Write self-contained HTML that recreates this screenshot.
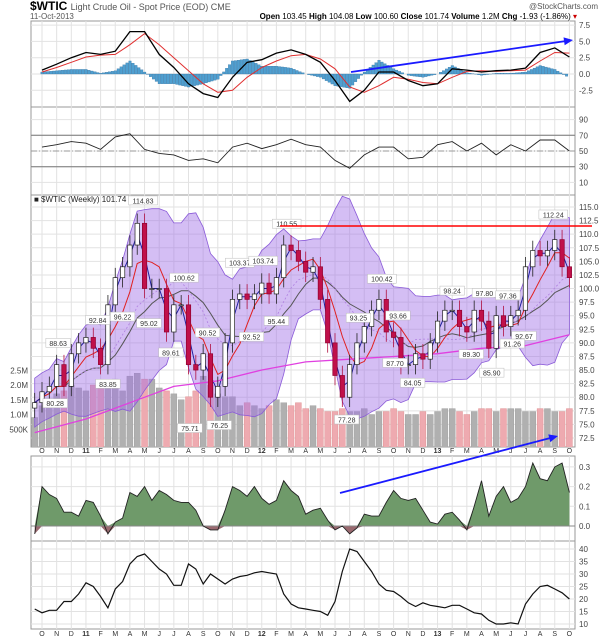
<!DOCTYPE html>
<html><head><meta charset="utf-8"><style>
body{margin:0;background:#fff}
svg{display:block;font-family:"Liberation Sans",sans-serif}
</style></head><body>
<svg id="c" width="606" height="640" xmlns="http://www.w3.org/2000/svg">
<rect width="606" height="640" fill="#fff"/>
<text x="30" y="10" font-size="12" font-weight="bold" fill="#000">$WTIC <tspan font-size="9" font-weight="normal" fill="#555">Light Crude Oil - Spot Price (EOD) CME</tspan></text>
<text x="30" y="19" font-size="8" fill="#555">11-Oct-2013</text>
<text x="598" y="9" font-size="8" fill="#555" text-anchor="end">@StockCharts.com</text>
<text x="577" y="19" font-size="8" text-anchor="end" fill="#000"><tspan font-weight="bold">Open</tspan> 103.45 <tspan font-weight="bold">High</tspan> 104.08 <tspan font-weight="bold">Low</tspan> 100.60 <tspan font-weight="bold">Close</tspan> 101.74 <tspan font-weight="bold">Volume</tspan> 1.2M <tspan font-weight="bold">Chg</tspan> -1.93 (-1.86%) <tspan fill="#c00">▾</tspan></text>
<defs>
<clipPath id="cpPrice"><rect x="31" y="195" width="544" height="252"/></clipPath>
<clipPath id="cpMacd"><rect x="31" y="21" width="544" height="86"/></clipPath>
</defs>
<g id="grid"></g>
<g id="marks"></g>
</svg>
<script>
// ---- data ----
const months = ["O","N","D","11","F","M","A","M","J","J","A","S","O","N","D","12","F","M","A","M","J","J","A","S","O","N","D","13","F","M","A","M","J","J","A","S","O"];
// semi-monthly series, m = -0.5, 0, 0.5, ... 36
const closes = [79,81,82,86,82,88,90,91,89,86,97,102,104,108,112,100,100,100,92,97,97,86,85,88,80,82,90,98,99,98,99,101,99,102,108,107,105,103,104,98,90,84,80,86,90,93,96,98,92,91,86,86,88,87,90,94,96,96,93,92,96,94,89,95,93,95,96,104,107,106,107,109,104,102];
const volumes = [0.9,1.3,1.5,1.7,1.8,2.0,1.9,1.8,2.0,2.0,2.1,2.2,1.8,2.3,2.4,2.2,2.2,1.9,1.8,1.7,1.5,1.6,1.8,2.3,2.0,1.7,1.6,1.6,1.3,1.4,1.3,1.2,1.3,1.5,1.4,1.3,1.4,1.2,1.3,1.2,1.1,1.1,1.2,1.1,1.1,1.2,1.0,1.1,1.1,1.2,1.1,1.0,1.0,1.1,1.0,1.1,1.2,1.2,1.1,1.0,1.1,1.2,1.2,1.1,1.2,1.2,1.2,1.1,1.1,1.2,1.2,1.1,1.1,1.2];
const panel4 = [-0.04,0.2,0.16,0.14,0.07,0.07,0.05,0.13,0.12,0.05,-0.04,0.02,0.04,0.17,0.15,0.2,0.13,0.18,0.16,0.13,0.12,0.12,0.08,0.0,-0.02,-0.02,0.08,0.2,0.18,0.15,0.2,0.14,0.11,0.13,0.23,0.18,0.15,0.06,0.08,0.09,0.03,-0.02,0.0,-0.04,-0.01,0.06,0.05,0.05,0.12,0.18,0.14,0.13,0.14,0.08,0.02,0.01,0.06,0.07,0.03,-0.02,0.1,0.23,0.05,0.15,0.2,0.12,0.14,0.2,0.32,0.24,0.23,0.3,0.32,0.17];
const panel5 = [16,14.5,15.5,15.5,19,19,22,26.5,25,21,16.5,24,27,34,37,38,35,32,30,25.5,25.5,34,32,26,30,28,26,28,29,29.5,30.5,31,30.5,30,22,18,16.5,16,15.5,15,13.5,19,31,40,39,35,31,26,23.5,23,21,18.5,17,18.5,17.5,17,16.5,17.5,17.5,16,14.5,14,11.5,10,10,10.5,10,18,22,25,25.5,24,22.5,20];
// monthly series, m = 0..36
const macdLine = [0.6,1.5,2.5,3.3,3.0,3.5,6.5,6.5,3.0,1.0,-1.5,-3.0,-3.6,-0.5,1.8,2.2,3.2,3.7,3.0,1.8,-1.0,-4.2,-2.5,0.3,0.3,-1.0,-1.8,-1.5,0.8,0.6,0.3,0.5,0.6,0.9,3.3,4.0,2.6];
const macdSignal = [0.3,1.0,1.8,2.6,2.9,3.0,4.5,6.2,4.5,2.5,0.5,-1.5,-2.8,-2.5,-0.5,1.0,2.0,2.8,3.0,2.3,0.8,-2.0,-2.8,-1.8,-0.5,-0.8,-1.3,-1.5,-0.5,0.4,0.5,0.4,0.5,0.6,2.0,3.3,3.2];
const rsi = [55,58,62,60,52,68,72,52,47,45,38,40,35,55,60,53,58,65,58,55,38,28,45,55,55,40,42,58,62,50,60,45,58,50,64,64,50];
// long MA (magenta)
const longMaMonths = [-0.5,3,6,9,12,15,18,21,24,27,30,33,36];
const longMaValues = [73.5,76,79,82,83,85,86.5,87,87.5,88,89,89.5,91.5];
// annotations
const annotM = [6.9,16.7,34.9,1.1,3.8,5.5,4.5,0.9,7.3,9.7,8.8,11.3,10.1,12.1,13.5,15.1,14.3,16.0,21.6,20.8,23.2,24.3,24.1,25.3,28.0,30.2,29.3,30.7,31.8,32.9,32.1];
const annotV = [114.83,110.55,112.24,88.63,92.84,96.22,83.85,80.28,95.02,100.62,89.61,90.52,75.71,76.25,103.37,103.74,92.52,95.44,93.25,77.28,100.42,93.66,87.70,84.05,98.24,97.80,89.30,85.90,97.36,92.67,91.26];
const annotUp = [1,1,1,1,1,0,0,0,0,1,0,1,0,0,1,1,0,0,1,0,1,1,0,0,1,1,0,0,1,0,0];
const priceTicks = [115,112.5,110,107.5,105,102.5,100,97.5,95,92.5,90,87.5,85,82.5,80,77.5,75,72.5];
const volTicks = [2.5,2.0,1.5,1.0,0.5];
const volTickLabels = ["2.5M","2.0M","1.5M","1.0M","500K"];
const macdTicks = [7.5,5.0,2.5,0.0,-2.5];
const rsiTicks = [90,70,50,30,10];
const p4Ticks = [0.3,0.2,0.1,0.0];
const p5Ticks = [40,35,30,25,20,15,10];

// ---- scales ----
const L=31,R=575;
const X = m => 42 + m*14.65;
const semiM = i => -0.5 + i*0.5;
const yPrice = p => 207 + (115-p)*5.435;
const yVol = v => 444 - v*29.5;
const yMacd = v => 74 - v*6.52;
const yRsi = v => 151 - (v-50)*0.785;
const yP4 = v => 526 - v*197;
const yP5 = v => 624 - (v-10)*2.5;

const NS="http://www.w3.org/2000/svg";
const svg=document.getElementById('c');
const G=document.getElementById('grid'), M=document.getElementById('marks');
function el(tag,attrs,parent){const e=document.createElementNS(NS,tag);for(const k in attrs)e.setAttribute(k,attrs[k]);(parent||M).appendChild(e);return e;}
function txt(x,y,s,attrs,parent){const e=el('text',Object.assign({x:x,y:y,'font-size':8,fill:'#333'},attrs||{}),parent);e.textContent=s;return e;}

// panels
const panels=[[21,107,'macd-panel'],[107,195,'rsi-panel'],[195,447,'price-panel'],[456,541,'panel-4'],[541,629,'panel-5']];
panels.forEach(p=>{const r=el('rect',{x:L,y:p[0],width:R-L,height:p[1]-p[0],fill:'none',stroke:'#999','stroke-width':1},G);

});
// vertical grid
for(let i=0;i<months.length;i++){const x=X(i);
 panels.forEach(p=>el('line',{x1:x,x2:x,y1:p[0],y2:p[1],stroke:'#e2e2e2'},G));
 [453,636].forEach(yy=>{const t=txt(x,yy,months[i],{'text-anchor':'middle','font-size':7,'font-weight':/\d/.test(months[i])?'bold':'normal',fill:'#333'},G);
 
 });
}
function hgrid(ticks,fy,fmt,top,bot,name){ticks.forEach((t,i)=>{const y=fy(t);
 el('line',{x1:L,x2:R,y1:y,y2:y,stroke:'#e2e2e2'},G);
 const l=txt(579,y+3,fmt(t,i),{'font-size':8,fill:'#444'},G);
 
 });}
hgrid(macdTicks,yMacd,t=>t.toFixed(1),21,107,'macd-tick');
hgrid(rsiTicks,yRsi,t=>String(t),107,195,'rsi-tick');
hgrid(priceTicks,yPrice,t=>t.toFixed(1),195,447,'price-tick');
hgrid(p4Ticks,yP4,t=>t.toFixed(1),456,541,'panel4-tick');
hgrid(p5Ticks,yP5,t=>String(t),541,629,'panel5-tick');
volTicks.forEach((v,i)=>{const l=txt(28,yVol(v)+3,volTickLabels[i],{'text-anchor':'end','font-size':8,fill:'#444'},G);
 
 });

// ---- MACD ----
const gm=el('g',{'clip-path':'url(#cpMacd)'});


for(let i=0;i<macdLine.length-1;i++){
 for(let s=0;s<5;s++){const f=s/5, m=i+f;
  const h=(macdLine[i]*(1-f)+macdLine[i+1]*f)-(macdSignal[i]*(1-f)+macdSignal[i+1]*f);
  const y0=yMacd(0),y1=yMacd(h);
  const b=el('rect',{x:X(m)-1.2,y:Math.min(y0,y1),width:2.6,height:Math.abs(y1-y0),fill:'#4f9fd0',stroke:'#2f6f9f','stroke-width':0.3},gm);
  
  }}
function pline(arr,fx,fy,attrs,g,name){const d=arr.map((v,i)=>(i?'L':'M')+fx(i).toFixed(1)+','+fy(v).toFixed(1)).join('');
 const p=el('path',Object.assign({d:d,fill:'none'},attrs),g);
 
 return p;}
pline(macdSignal,i=>X(i),yMacd,{stroke:'#e03030','stroke-width':1},gm,'macd-signal-line');
pline(macdLine,i=>X(i),yMacd,{stroke:'#000','stroke-width':1.3},gm,'macd-line');
[70,30].forEach(v=>el('line',{x1:L,x2:R,y1:yRsi(v),y2:yRsi(v),stroke:'#777'},G));
el('line',{x1:L,x2:R,y1:yRsi(50),y2:yRsi(50),stroke:'#999','stroke-dasharray':'6,2,1,2'},G);
pline(rsi,i=>X(i),yRsi,{stroke:'#222','stroke-width':0.9},M,'rsi-line');

// ---- price panel ----
const gp=el('g',{'clip-path':'url(#cpPrice)'});


// volume
volumes.forEach((v,i)=>{const up=i===0||closes[i]>=closes[i-1];
 const b=el('rect',{x:X(semiM(i))-3,y:yVol(v),width:6,height:460-yVol(v),fill:up?'#b0b0b0':'#eeaab0',stroke:up?'#999':'#d88',"stroke-width":0.4},gp);
 
 });
// moving averages / bands derived from closes
function sma(n){return closes.map((c,i)=>{const s=closes.slice(Math.max(0,i-n+1),i+1);return s.reduce((a,b)=>a+b,0)/s.length;});}
const mid=sma(10);
const sd=closes.map((c,i)=>{const s=closes.slice(Math.max(0,i-9),i+1);const mu=mid[i];return Math.sqrt(s.reduce((a,b)=>a+(b-mu)*(b-mu),0)/s.length);});
const up=mid.map((m,i)=>m+Math.max(2*sd[i],4.5)),lo=mid.map((m,i)=>m-Math.max(2*sd[i],4.5));
let bd=up.map((v,i)=>(i?'L':'M')+X(semiM(i)).toFixed(1)+','+yPrice(v).toFixed(1)).join('');
for(let i=lo.length-1;i>=0;i--)bd+='L'+X(semiM(i)).toFixed(1)+','+yPrice(lo[i]).toFixed(1);
const band=el('path',{d:bd+'Z',fill:'rgba(160,110,230,0.45)',stroke:'#8a5ad8','stroke-width':0.8},gp);


pline(sma(12),i=>X(semiM(i)),yPrice,{stroke:'#555','stroke-width':1},gp,'ma-long-gray');
pline(mid,i=>X(semiM(i)),yPrice,{stroke:'#b080e0','stroke-width':0.8,'stroke-dasharray':'2,2'},gp,'bollinger-mid');
pline(sma(5),i=>X(semiM(i)),yPrice,{stroke:'#e02020','stroke-width':1},gp,'ma-red');
pline(sma(2),i=>X(semiM(i)),yPrice,{stroke:'#2020a0','stroke-width':1},gp,'ma-blue');
pline(longMaValues,i=>X(longMaMonths[i]),yPrice,{stroke:'#e040e0','stroke-width':1.3},gp,'ma-200-magenta');
// candles
closes.forEach((c,i)=>{const o=i?closes[i-1]:c-1;const x=X(semiM(i));const down=c<o;
 const hi=Math.max(o,c)+1.8, lw=Math.min(o,c)-1.8;
 const w=el('line',{x1:x,x2:x,y1:yPrice(hi),y2:yPrice(lw),stroke:down?'#b01040':'#222','stroke-width':0.8},gp);
 
 
 const b=el('rect',{x:x-2.2,y:yPrice(Math.max(o,c)),width:4.4,height:Math.max(1,Math.abs(yPrice(o)-yPrice(c))),fill:down?'#c0104a':'#fff',stroke:down?'#900030':'#222','stroke-width':0.7},gp);
 
 });
// resistance line
const rl=el('line',{x1:280,x2:592,y1:226,y2:226,stroke:'#f00','stroke-width':1.5});


// annotations
annotM.forEach((m,i)=>{const x=X(m),y=yPrice(annotV[i])+(annotUp[i]?-7:8);
 const s=annotV[i].toFixed(2);const w=s.length*4.3+3;
 const r=el('rect',{x:x-w/2,y:y-5,width:w,height:9,fill:'#fff',stroke:'#bbb','stroke-width':0.5},gp);
 
 
 const t=txt(x,y+2.5,s,{'text-anchor':'middle','font-size':7,fill:'#333'},gp);
 
 });
const lg=txt(34,202,'\u25A0 $WTIC (Weekly) 101.74',{'font-size':8,fill:'#222'});



// ---- panel 4 area ----
function area(arr,fy,fill,name,sign){let d='M'+X(semiM(0))+','+fy(0);
 arr.forEach((v,i)=>{const vv=sign>0?Math.max(v,0):Math.min(v,0);d+='L'+X(semiM(i)).toFixed(1)+','+fy(vv).toFixed(1);});
 d+='L'+X(semiM(arr.length-1))+','+fy(0)+'Z';
 const p=el('path',{d:d,fill:fill});
 
 }
area(panel4,yP4,'#6f9a6a','panel4-positive-area',1);
area(panel4,yP4,'#9a6a70','panel4-negative-area',-1);
el('line',{x1:L,x2:R,y1:yP4(0),y2:yP4(0),stroke:'#888'});
pline(panel4,i=>X(semiM(i)),yP4,{stroke:'#222','stroke-width':0.9},M,'panel4-line');
pline(panel5,i=>X(semiM(i)),yP5,{stroke:'#111','stroke-width':1.2},M,'panel5-line');

// ---- trend arrows ----
function arrow(x1,y1,x2,y2,name){const a=Math.atan2(y2-y1,x2-x1);
 const l=el('line',{x1:x1,y1:y1,x2:x2-6*Math.cos(a),y2:y2-6*Math.sin(a),stroke:'#1a1aff','stroke-width':1.8});
 
 
 const h=el('path',{d:`M${x2},${y2}L${x2-9*Math.cos(a)+4*Math.sin(a)},${y2-9*Math.sin(a)-4*Math.cos(a)}L${x2-9*Math.cos(a)-4*Math.sin(a)},${y2-9*Math.sin(a)+4*Math.cos(a)}Z`,fill:'#1a1aff'});
 
 }
arrow(351,72,573,40,'macd-trend-arrow');
arrow(340,493,558,436,'panel4-trend-arrow');
</script>
</body></html>
